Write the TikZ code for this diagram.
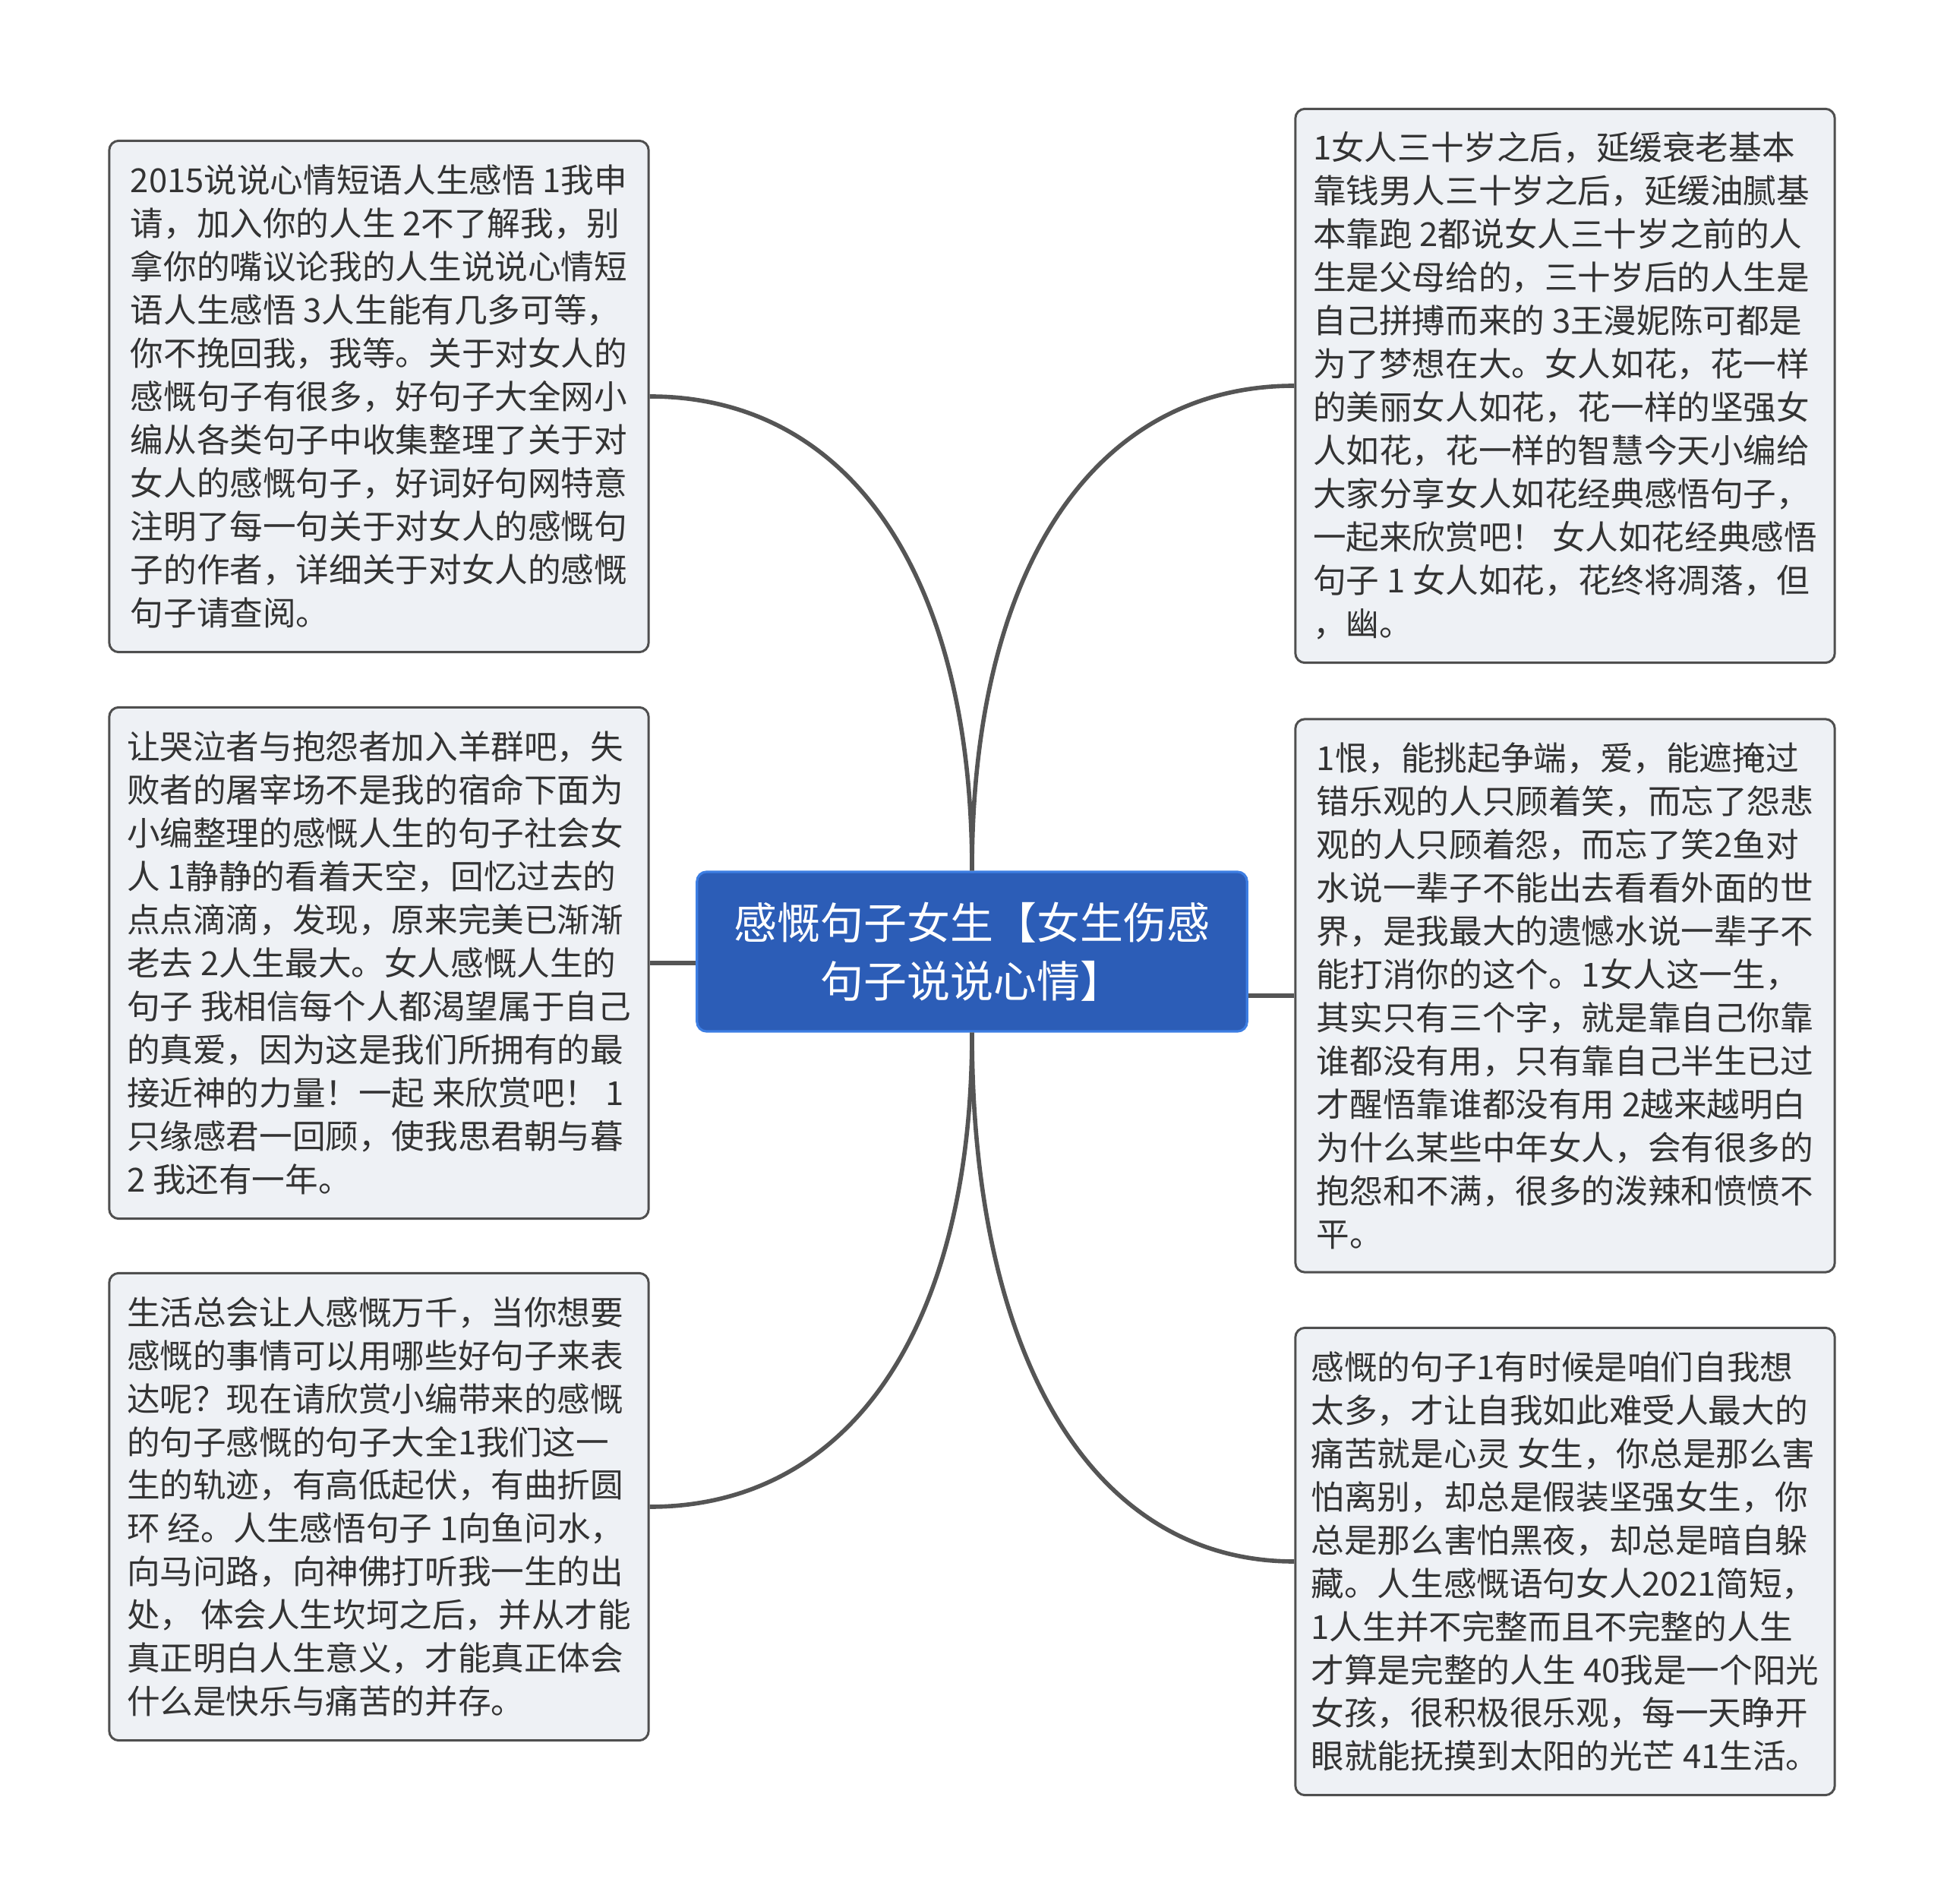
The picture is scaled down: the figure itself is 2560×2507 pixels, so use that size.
\documentclass[tikz,border=0pt]{standalone}
\usepackage{fontspec}
\setmainfont{Noto Sans CJK SC}
\usepackage{tikz}
\usetikzlibrary{positioning}
\definecolor{leaffill}{HTML}{EEF1F5}
\definecolor{leafline}{HTML}{4F4F4F}
\definecolor{hubfill}{HTML}{2C5DB7}
\definecolor{hubline}{HTML}{3D7EE3}
\definecolor{linkgray}{HTML}{555555}
\definecolor{txtgray}{HTML}{333333}

\begin{document}
\begin{tikzpicture}[x=0.01cm,y=-0.01cm,
  leaf/.style={draw=leafline,line width=0.85pt,fill=leaffill,rounded corners=3.6pt,
    align=left,text=txtgray,minimum width=7.1cm,inner sep=0pt,
    font=\fontsize{12.4pt}{16.2pt}\selectfont},
  hub/.style={draw=hubline,line width=0.9pt,fill=hubfill,rounded corners=3.6pt,
    align=center,text=white,minimum width=7.24cm,minimum height=2.1cm,
    font=\fontsize{16.2pt}{21.9pt}\selectfont},
  link/.style={draw=linkgray,line width=1.6pt}]
\useasboundingbox (0,0) rectangle (2560,2507);

\node[hub] (hub) at (1280,1253) {感慨句子女生【女生伤感\\句子说说心情】};

% left side
\node[leaf,minimum height=6.73cm] (adv) at (499,522) {2015说说心情短语人生感悟 1我申\\请，加入你的人生 2不了解我，别\\拿你的嘴议论我的人生说说心情短\\语人生感悟 3人生能有几多可等，\\你不挽回我，我等。关于对女人的\\感慨句子有很多，好句子大全网小\\编从各类句子中收集整理了关于对\\女人的感慨句子，好词好句网特意\\注明了每一句关于对女人的感慨句\\子的作者，详细关于对女人的感慨\\句子请查阅。};
\node[leaf,minimum height=6.73cm] (sheep) at (499,1268) {让哭泣者与抱怨者加入羊群吧，失\\败者的屠宰场不是我的宿命下面为\\小编整理的感慨人生的句子社会女\\人 1静静的看着天空，回忆过去的\\点点滴滴，发现，原来完美已渐渐\\老去 2人生最大。女人感慨人生的\\句子 我相信每个人都渴望属于自己\\的真爱，因为这是我们所拥有的最\\接近神的力量！一起 来欣赏吧！ 1\\只缘感君一回顾，使我思君朝与暮\\2 我还有一年。};
\node[leaf,minimum height=6.15cm] (life) at (499,1984) {生活总会让人感慨万千，当你想要\\感慨的事情可以用哪些好句子来表\\达呢？现在请欣赏小编带来的感慨\\的句子感慨的句子大全1我们这一\\生的轨迹，有高低起伏，有曲折圆\\环 经。人生感悟句子 1向鱼问水，\\向马问路，向神佛打听我一生的出\\处， 体会人生坎坷之后，并从才能\\真正明白人生意义，才能真正体会\\什么是快乐与痛苦的并存。};

% right side
\node[leaf,minimum height=7.29cm] (thirty) at (2061,508) {1女人三十岁之后，延缓衰老基本\\靠钱男人三十岁之后，延缓油腻基\\本靠跑 2都说女人三十岁之前的人\\生是父母给的，三十岁后的人生是\\自己拼搏而来的 3王漫妮陈可都是\\为了梦想在大。女人如花，花一样\\的美丽女人如花，花一样的坚强女\\人如花，花一样的智慧今天小编给\\大家分享女人如花经典感悟句子，\\一起来欣赏吧！ 女人如花经典感悟\\句子 1 女人如花，花终将凋落，但\\，幽。};
\node[leaf,minimum height=7.28cm] (hate) at (2061,1311) {1恨，能挑起争端，爱，能遮掩过\\错乐观的人只顾着笑，而忘了怨悲\\观的人只顾着怨，而忘了笑2鱼对\\水说一辈子不能出去看看外面的世\\界，是我最大的遗憾水说一辈子不\\能打消你的这个。1女人这一生，\\其实只有三个字，就是靠自己你靠\\谁都没有用，只有靠自己半生已过\\才醒悟靠谁都没有用 2越来越明白\\为什么某些中年女人，会有很多的\\抱怨和不满，很多的泼辣和愤愤不\\平。};
\node[leaf,minimum height=6.15cm] (girl) at (2061,2056) {感慨的句子1有时候是咱们自我想\\太多，才让自我如此难受人最大的\\痛苦就是心灵 女生，你总是那么害\\怕离别，却总是假装坚强女生，你\\总是那么害怕黑夜，却总是暗自躲\\藏。人生感慨语句女人2021简短，\\1人生并不完整而且不完整的人生\\才算是完整的人生 40我是一个阳光\\女孩，很积极很乐观，每一天睁开\\眼就能抚摸到太阳的光芒 41生活。};

% connectors
\draw[link] (hub.north) .. controls +(0,-388) and +(264,0) .. (adv.east);
\draw[link] (hub.north) .. controls +(0,-397) and +(-264,0) .. (thirty.west);
\draw[link] (hub.south) .. controls +(0,388) and +(264,0) .. (life.east);
\draw[link] (hub.south) .. controls +(0,432) and +(-264,0) .. (girl.west);
\draw[link] (sheep.east) -- (sheep.east -| hub.west);
\draw[link] (hate.west) -- (hate.west -| hub.east);
\end{tikzpicture}
\end{document}
